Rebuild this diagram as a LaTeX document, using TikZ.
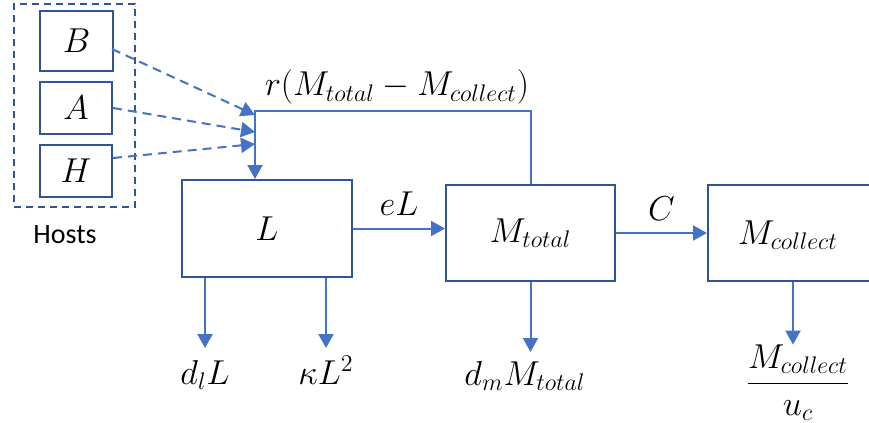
\documentclass[tikz,border=0pt]{standalone}
\usepackage{fontspec}
\newfontfamily\hostsfont{Carlito}
\usetikzlibrary{arrows.meta,calc}
\definecolor{boxblue}{HTML}{2F5597}
\definecolor{lineblue}{HTML}{4472C4}
\begin{document}
\begin{tikzpicture}[x=0.5pt,y=-0.5pt,
  box/.style={draw=boxblue,line width=1pt,inner sep=0pt,font=\fontsize{17.28}{20}\selectfont},
  flow/.style={draw=lineblue,line width=1pt},
  tip/.style={-{Triangle[width=7.5pt,length=7pt]}},
  dflow/.style={flow,dash pattern=on 4.5pt off 3pt},
  lbl/.style={font=\fontsize{17.28}{20}\selectfont,inner sep=0pt}]
\useasboundingbox (0,0) rectangle (869,423);
\clip (0,0) rectangle (869,423);
% hosts
\node[draw=boxblue,line width=1pt,dash pattern=on 3.5pt off 2.5pt,minimum width=60.5pt,minimum height=101.5pt,inner sep=0pt] (hosts) at (74.5,105.5) {};
\node[box,minimum width=36.5pt,minimum height=30pt] (B) at (76.5,41) {$B$};
\node[box,minimum width=36pt,minimum height=26pt] (A) at (76,108) {$A$};
\node[box,minimum width=36pt,minimum height=26pt] (H) at (76,171) {$H$};
\node[font=\hostsfont\fontsize{14}{16}\selectfont,inner sep=0pt] (hl) at (65,235) {Hosts};
% main boxes
\node[box,minimum width=85pt,minimum height=48.5pt] (L) at (267,228.5) {$L$};
\node[box,minimum width=84.5pt,minimum height=48pt] (Mt) at (530.5,233) {$M_{total}$};
\node[box,minimum width=85pt,minimum height=48pt] (Mc) at (793,233) {};
\node[lbl] (McL) at (788,235) {$M_{collect}$};
% feedback
\coordinate (J) at (255,111);
\draw[flow,tip] (Mt.north) |- (J) -- (J |- L.north);
\node[lbl,anchor=south,inner sep=3pt] (rlab) at (397,111) {$r(M_{total}-M_{collect})$};
% host arrows
\coordinate (t1) at (255,115);
\coordinate (t2) at (255,132);
\coordinate (t3) at (255,144);
\draw[dflow,tip] ($(B.east)+(-2,8)$) -- (t1);
\draw[dflow,tip] (A.east) -- (t2);
\draw[dflow,tip] ($(H.east)+(0,-13)$) -- (t3);
% horizontal flows
\draw[flow,tip] (L.east) -- (L.east -| Mt.west) node[lbl,midway,above=6pt] (el) {$eL$};
\draw[flow,tip] (Mt.east) -- (Mc.west) node[lbl,midway,above=6pt] (cl) {$C$};
% outflows
\node[lbl,anchor=north] (dl) at (205,360) {$d_lL$};
\draw[flow,tip,shorten >=6pt] (dl |- L.south) -- (dl.north);
\node[lbl,anchor=north] (kl) at (326,356) {$\kappa L^2$};
\draw[flow,tip,shorten >=4pt] (kl |- L.south) -- (kl.north);
\node[lbl,anchor=north] (dm) at (525,361) {$d_mM_{total}$};
\draw[flow,tip,shorten >=4.5pt] (Mt.south) -- (Mt.south |- dm.north);
\node[lbl,anchor=base] (fr) at (798,392) {$\displaystyle\frac{M_{collect}}{u_c}$};
\draw[flow,tip] (Mc.south) -- (Mc.south |- fr.north);
\end{tikzpicture}
\end{document}
